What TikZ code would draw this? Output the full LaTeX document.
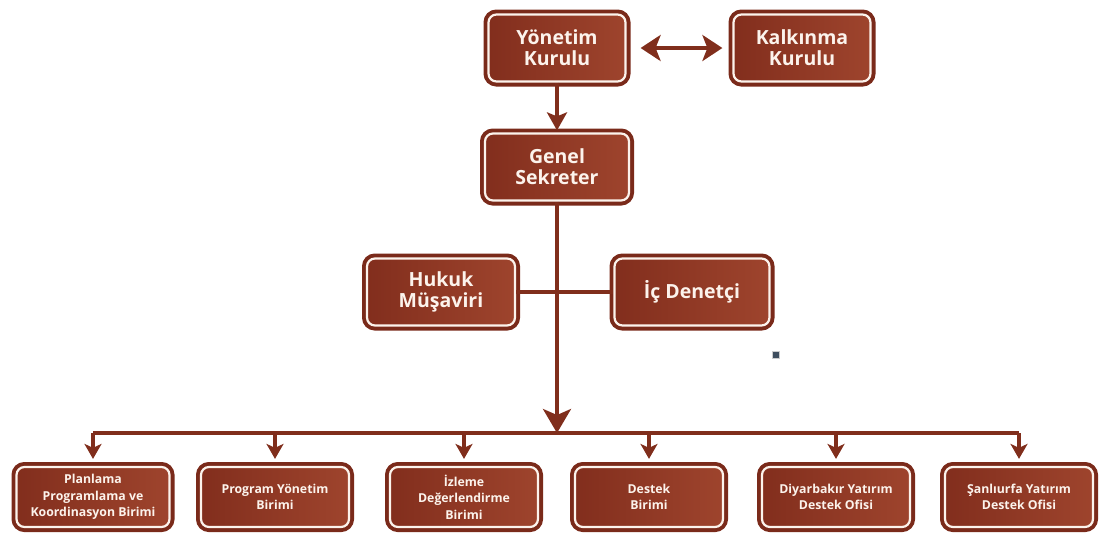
\documentclass[tikz,border=0pt]{standalone}
\usepackage{fontspec}
\setmainfont{Open Sans}
\usetikzlibrary{arrows.meta, positioning, calc}
\definecolor{brownleft}{RGB}{130,46,29}
\definecolor{brownright}{RGB}{158,68,45}
\definecolor{brownrim}{RGB}{122,42,26}
\definecolor{brownline}{RGB}{128,46,28}
\definecolor{cream}{RGB}{252,243,236}
\definecolor{dotgray}{RGB}{62,78,94}
\tikzset{
  unit/.style={rectangle, rounded corners=8pt, left color=brownleft, right color=brownright,
    draw=cream, line width=2.2pt, preaction={draw=brownrim, line width=10pt},
    text=cream, font=\bfseries\fontsize{19.5}{21}\selectfont, align=center,
    minimum width=137pt, minimum height=67pt, inner sep=2pt},
  subunit/.style={unit, font=\bfseries\fontsize{12.3}{16.5}\selectfont,
    minimum width=148pt, minimum height=60pt},
  link/.style={color=brownline, line width=3.5pt},
  bigarrow/.style={link, -{Stealth[length=24pt, width=28pt, inset=6pt]}},
  midarrow/.style={link, -{Stealth[length=18pt, width=20pt, inset=4pt]}, shorten >=2pt},
  smallarrow/.style={link, -{Stealth[length=15pt, width=17pt, inset=4pt]}, shorten >=7pt},
  botharrow/.style={link, {Stealth[length=20pt, width=26pt, inset=5pt]}-{Stealth[length=20pt, width=26pt, inset=5pt]},
    shorten <=14pt, shorten >=10pt}
}
\begin{document}
\begin{tikzpicture}[x=1pt, y=-1pt]
\useasboundingbox (0,0) rectangle (1103,539);
% top level
\node[unit] (yk) at (557,48) {Yönetim\\Kurulu};
\node[unit] (kk) at (802,48) {Kalkınma\\Kurulu};
\node[unit, minimum width=144pt] (gs) at (557,167) {Genel\\Sekreter};
\node[unit, minimum width=148pt] (hm) at (441,292) {Hukuk\\Müşaviri};
\node[unit, minimum width=155pt] (id) at (692,292) {İç Denetçi};
\coordinate (bus) at (557,433);

% units
\node[subunit, minimum width=153pt] (b1) at (93,497) {Planlama\\Programlama ve\\Koordinasyon Birimi};
\node[subunit] (b2) at (275,497) {Program Yönetim\\Birimi};
\node[subunit] (b3) at (464,497) {İzleme\\Değerlendirme\\Birimi};
\node[subunit] (b4) at (649,497) {Destek\\Birimi};
\node[subunit] (b5) at (836,497) {Diyarbakır Yatırım\\Destek Ofisi};
\node[subunit] (b6) at (1019,497) {Şanlıurfa Yatırım\\Destek Ofisi};

\node[draw=gray!40, line width=0.6pt, fill=dotgray, minimum size=7pt, inner sep=0pt] (dot) at (776,355) {};

% connectors
\draw[botharrow] (yk) -- (kk);
\draw[midarrow] (yk) -- (gs);
\draw[link] (hm) -- (id);
\draw[link] (b1.north |- bus) -- (b6.north |- bus);
\draw[bigarrow] (gs) -- (bus);
\foreach \b in {b1,b2,b3,b4,b5,b6}
  \draw[smallarrow] (\b.north |- bus) -- (\b.north);
\end{tikzpicture}
\end{document}
